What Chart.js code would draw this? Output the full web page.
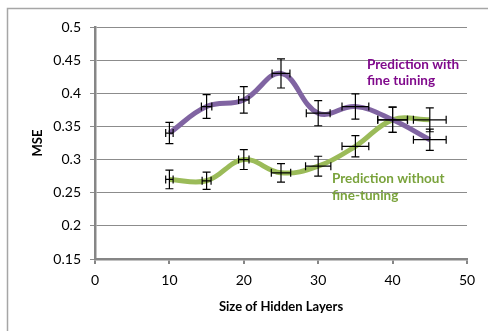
<!DOCTYPE html>
<html>
<head>
<meta charset="utf-8">
<script src="https://cdn.jsdelivr.net/npm/chart.js@4"></script>
<style>
  html, body { margin: 0; padding: 0; background: #ffffff; }
  #wrap { width: 488px; height: 331px; position: relative; }
</style>
</head>
<body>
<div id="wrap"><canvas id="c" width="488" height="331"></canvas></div>
<script>
// ---- data ----
const hiddenLayerSizes = [10, 15, 20, 25, 30, 35, 40, 45];
const mseWithFineTuning = [0.34, 0.38, 0.39, 0.43, 0.37, 0.38, 0.36, 0.33];
const mseWithoutFineTuning = [0.27, 0.268, 0.30, 0.28, 0.29, 0.32, 0.36, 0.36];
const yErrWithFineTuning = [0.016, 0.018, 0.02, 0.022, 0.019, 0.019, 0.019, 0.016];
const yErrWithoutFineTuning = [0.014, 0.013, 0.015, 0.014, 0.015, 0.016, 0.019, 0.018];
const xErrWithFineTuning = [0.5, 0.7, 0.7, 1.2, 1.6, 1.8, 2.0, 2.2];
const xErrWithoutFineTuning = [0.5, 0.6, 0.7, 1.3, 1.7, 1.8, 2.0, 2.2];
const xTickValues = [0, 10, 20, 30, 40, 50];
const yTickValues = [0.15, 0.2, 0.25, 0.3, 0.35, 0.4, 0.45, 0.5];
const seriesNames = ["Prediction with fine tuining", "Prediction without fine-tuning"];
const labelWith = ["Prediction with", "fine tuining"];
const labelWithout = ["Prediction without", "fine-tuning"];
const xTitle = 'Size of Hidden Layers';
const yTitle = 'MSE';

const PURPLE = '#8064a2', GREEN = '#9bbb59';
const PURPLE_TXT = '#800a8c', GREEN_TXT = '#7aa33c';
const FONT = 'Lato, "Open Sans", sans-serif';

function toPoints(xs, ys, xe, ye) {
  return xs.map((x, i) => ({ x: x, y: ys[i], xErr: xe[i], yErr: ye[i] }));
}

const errorBarPlugin = {
  id: 'errorBars',
  afterDatasetsDraw(chart) {
    const ctx = chart.ctx, xs = chart.scales.x, ys = chart.scales.y;
    const cap = 4;
    ctx.save();
    ctx.strokeStyle = '#000';
    ctx.lineWidth = 1.2;
    chart.data.datasets.forEach(ds => {
      ds.data.forEach(p => {
        const px = xs.getPixelForValue(p.x), py = ys.getPixelForValue(p.y);
        const yt = ys.getPixelForValue(p.y + p.yErr), yb = ys.getPixelForValue(p.y - p.yErr);
        const xl = xs.getPixelForValue(p.x - p.xErr), xr = xs.getPixelForValue(p.x + p.xErr);
        ctx.beginPath();
        ctx.moveTo(px, yt); ctx.lineTo(px, yb);
        ctx.moveTo(px - cap, yt); ctx.lineTo(px + cap, yt);
        ctx.moveTo(px - cap, yb); ctx.lineTo(px + cap, yb);
        ctx.moveTo(xl, py); ctx.lineTo(xr, py);
        ctx.moveTo(xl, py - cap); ctx.lineTo(xl, py + cap);
        ctx.moveTo(xr, py - cap); ctx.lineTo(xr, py + cap);
        ctx.stroke();
      });
    });
    ctx.restore();
  }
};

const labelsPlugin = {
  id: 'seriesLabels',
  afterDraw(chart) {
    const ctx = chart.ctx, xs = chart.scales.x, ys = chart.scales.y;
    const area = chart.chartArea;
    ctx.save();
    ctx.font = 'bold 13.5px ' + FONT;
    ctx.textAlign = 'left';
    ctx.textBaseline = 'alphabetic';
    ctx.fillStyle = PURPLE_TXT;
    ctx.fillText(labelWith[0], xs.getPixelForValue(36.56), ys.getPixelForValue(0.436));
    ctx.fillText(labelWith[1], xs.getPixelForValue(36.56), ys.getPixelForValue(0.412));
    ctx.fillStyle = GREEN_TXT;
    ctx.fillText(labelWithout[0], xs.getPixelForValue(31.85), ys.getPixelForValue(0.2647));
    ctx.fillText(labelWithout[1], xs.getPixelForValue(31.85), ys.getPixelForValue(0.2386));
    // x-axis title
    ctx.fillStyle = '#000';
    ctx.font = 'bold 13px ' + FONT;
    ctx.textAlign = 'center';
    ctx.fillText(xTitle, (area.left + area.right) / 2, 311);
    ctx.restore();
  }
};

const framePlugin = {
  id: 'frame',
  beforeDraw(chart) {
    const ctx = chart.ctx;
    ctx.save();
    ctx.fillStyle = '#fff';
    ctx.fillRect(0, 0, chart.width, chart.height);
    ctx.strokeStyle = '#a6a6a6';
    ctx.lineWidth = 1.5;
    ctx.beginPath();
    ctx.moveTo(7.5, chart.height + 2);
    ctx.lineTo(7.5, 8.5);
    ctx.lineTo(chart.width + 2, 8.5);
    ctx.stroke();
    ctx.restore();
  }
};

new Chart(document.getElementById('c'), {
  type: 'scatter',
  data: {
    datasets: [
      {
        label: seriesNames[0],
        data: toPoints(hiddenLayerSizes, mseWithFineTuning, xErrWithFineTuning, yErrWithFineTuning),
        showLine: true, borderColor: PURPLE, backgroundColor: PURPLE,
        borderWidth: 5, pointRadius: 0, tension: 0.4
      },
      {
        label: seriesNames[1],
        data: toPoints(hiddenLayerSizes, mseWithoutFineTuning, xErrWithoutFineTuning, yErrWithoutFineTuning),
        showLine: true, borderColor: GREEN, backgroundColor: GREEN,
        borderWidth: 5, pointRadius: 0, tension: 0.4
      }
    ]
  },
  options: {
    responsive: false,
    animation: false,
    layout: { padding: { left: 0, right: 21, top: 27, bottom: 0 } },
    plugins: { legend: { display: false }, tooltip: { enabled: false } },
    scales: {
      x: {
        type: 'linear', min: 0, max: 50,
        afterBuildTicks(scale) { scale.ticks = xTickValues.map(v => ({ value: v })); },
        afterFit(scale) { scale.height = 72; },
        ticks: { color: '#000', font: { family: FONT, size: 14 }, padding: 8, maxRotation: 0 },
        grid: { drawOnChartArea: false, drawTicks: true, tickLength: 5, color: '#868686', lineWidth: 2 },
        border: { display: true, color: '#868686', width: 2.5 },
        title: { display: false }
      },
      y: {
        type: 'linear', min: 0.15, max: 0.5,
        afterBuildTicks(scale) { scale.ticks = yTickValues.map(v => ({ value: v })); },
        afterFit(scale) { scale.width = 95; },
        ticks: { color: '#000', font: { family: FONT, size: 14 }, padding: 9,
                 callback: v => String(+v.toFixed(2)) },
        grid: { color: '#8c8c8c', lineWidth: 1, tickLength: 5 },
        border: { display: true, color: '#868686', width: 2.5 },
        title: { display: true, text: yTitle, color: '#000',
                 font: { family: FONT, size: 13, weight: 'bold' }, padding: { top: 30, bottom: 0 } }
      }
    }
  },
  plugins: [framePlugin, errorBarPlugin, labelsPlugin]
});
</script>
</body>
</html>
